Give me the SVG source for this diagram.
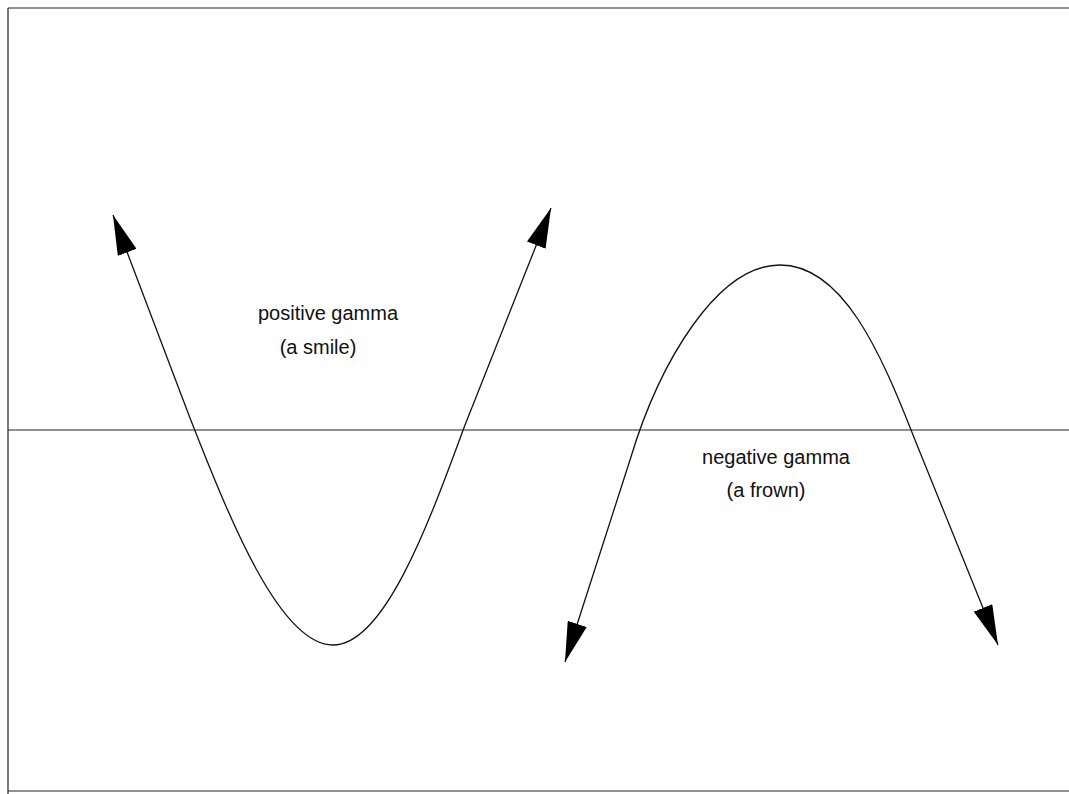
<svg xmlns="http://www.w3.org/2000/svg" width="1069" height="794" viewBox="0 0 1069 794">
<style>
.frame{stroke:#222;stroke-width:1.2;fill:none}
.curve{stroke:#111;stroke-width:1.3;fill:none;marker-start:url(#arr);marker-end:url(#arr)}
.lbl{font-family:"Liberation Sans",Arial,sans-serif;font-size:20px;fill:#111}
</style>
<defs>
<marker id="arr" markerUnits="userSpaceOnUse" viewBox="0 0 40 20" refX="40" refY="10" markerWidth="40" markerHeight="20" orient="auto-start-reverse">
<path d="M0,0 L40,10 L0,20 z" fill="#000"/>
</marker>
</defs>
<rect width="1069" height="794" fill="#fff"/>
<g id="frame">
<line class="frame" x1="8" y1="8" x2="1069" y2="8"/>
<line class="frame" x1="8" y1="8" x2="8" y2="794"/>
<line class="frame" x1="8" y1="791" x2="1069" y2="791"/>
<line class="frame" x1="8" y1="430" x2="1069" y2="430"/>
</g>
<g id="connectors">
<path id="smile" class="curve" d="M113,215 L190,418 C230,520 280,645 333,645 C385,645 430,520 465,425 L551,208"/>
<path id="frown" class="curve" d="M565,662 L630,460 C660,360 718,265 780,265 C842,265 880,350 915,440 L998,645"/>
</g>
<g id="label-positive">
<text class="lbl" x="328" y="320" text-anchor="middle">positive gamma</text>
<text class="lbl" x="318" y="354" text-anchor="middle">(a smile)</text>
</g>
<g id="label-negative">
<text class="lbl" x="776" y="464" text-anchor="middle">negative gamma</text>
<text class="lbl" x="766" y="497" text-anchor="middle">(a frown)</text>
</g>
</svg>
